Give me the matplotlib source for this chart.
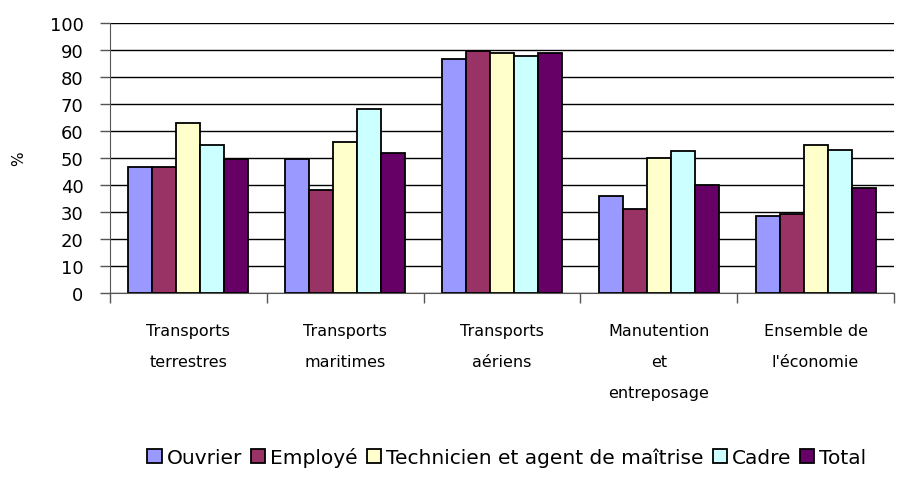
import matplotlib
matplotlib.use("Agg")
import matplotlib.pyplot as plt
import numpy as np
from matplotlib.patches import Patch

categories = ["Transports\nterrestres", "Transports\nmaritimes", "Transports\naériens",
              "Manutention\net\nentreposage", "Ensemble de\nl'économie"]
series = ["Ouvrier", "Employé", "Technicien et agent de maîtrise", "Cadre", "Total"]
ouvrier = [46.5, 49.5, 86.5, 36.0, 28.6]
employe = [46.5, 38.3, 89.5, 31.0, 29.4]
technicien = [62.8, 56.0, 88.8, 50.1, 54.8]
cadre = [54.8, 68.0, 87.9, 52.5, 53.1]
total = [49.5, 51.7, 88.9, 39.9, 39.0]
colors = ["#9999FF", "#993366", "#FFFFCC", "#CCFFFF", "#660066"]
yticks = [0, 10, 20, 30, 40, 50, 60, 70, 80, 90, 100]

plt.rcParams['font.family'] = ['DejaVu Sans']
fig = plt.figure(figsize=(9.01, 4.89), dpi=100)
ax = fig.add_axes([110/901, 1-294/489, (894-110)/901, (294-24)/489])

data = [ouvrier, employe, technicien, cadre, total]
x = np.arange(len(categories))
w = 0.153
for i, (vals, c) in enumerate(zip(data, colors)):
    ax.bar(x + (i - 2) * w, vals, width=w, color=c, edgecolor="black", linewidth=1.3, zorder=3)

ax.set_xlim(-0.5, len(categories) - 0.5)
ax.set_ylim(0, 100)
ax.set_yticks(yticks)
ax.set_yticklabels([str(t) for t in yticks], fontsize=13)
ax.yaxis.grid(True, color="black", linewidth=1.0, zorder=0)
ax.set_axisbelow(True)
for s in ["top", "right"]:
    ax.spines[s].set_visible(False)
ax.spines["left"].set_color("#555555")
ax.spines["bottom"].set_color("#555555")
ax.tick_params(axis="y", length=7, width=1, color="#555555", pad=12)
ax.set_xticks(np.arange(-0.5, len(categories), 1.0))
ax.set_xticklabels([])
ax.tick_params(axis="x", length=7, width=1, color="#555555", direction="out")
for xi, lab in zip(x, categories):
    ax.text(xi, -11, lab, ha="center", va="top", fontsize=11.5, linespacing=2.35,
            transform=ax.transData)
ax.set_ylabel("%", fontsize=11, labelpad=17)

handles = [Patch(facecolor=c, edgecolor="black", linewidth=1.3) for c in colors]
fig.legend(handles, series, loc="center", bbox_to_anchor=(507/901, 1-458/489), ncol=5,
           frameon=False, fontsize=14.5, handlelength=0.7, handleheight=0.7,
           handletextpad=0.25, columnspacing=0.45)

fig.savefig("out.png", dpi=100)
